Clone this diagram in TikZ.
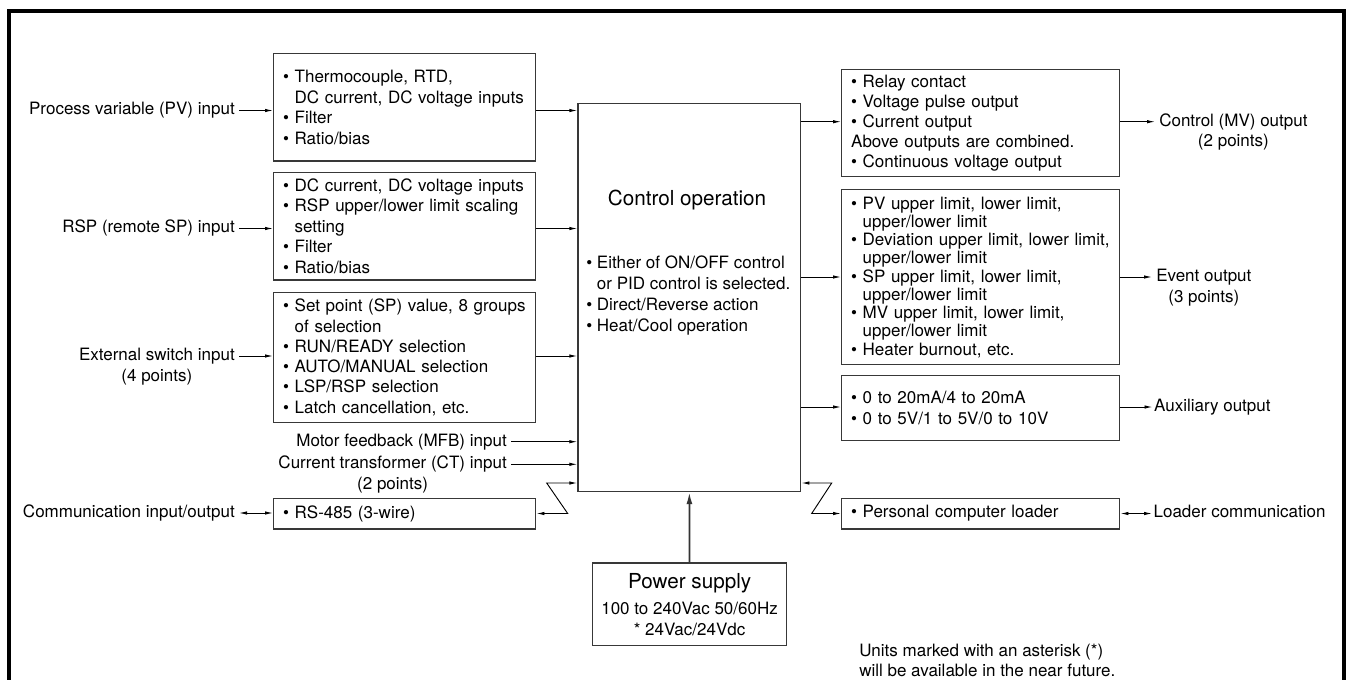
\documentclass[tikz,border=0pt]{standalone}
\usepackage{fontspec}
\setmainfont{TeX Gyre Heros}
\usetikzlibrary{arrows.meta}
\newcommand{\bul}{\textbullet\ }
\newcommand{\bulind}{\hphantom{\textbullet\ }}

\begin{document}
\begin{tikzpicture}[x=0.75pt,y=0.75pt,yscale=-1,xscale=1,
  font=\fontsize{12.75}{15.4}\selectfont,
  lbox/.style={draw=black!78,line width=1.1pt,anchor=north west,inner xsep=7pt,inner ysep=0pt,align=left,text width=182.5pt,minimum width=196.5pt},
  rbox/.style={lbox,text width=194.5pt,minimum width=208.5pt},
  lbl/.style={inner xsep=3pt,inner ysep=0pt,text height=9.2pt,text depth=2.7pt},
  arr/.style={line width=0.7pt,-{Latex[length=6pt,width=2.6pt]}},
  darr/.style={line width=0.7pt,{Latex[length=6pt,width=2.6pt]}-{Latex[length=6pt,width=2.6pt]}}]
\useasboundingbox (0,0) rectangle (1346,679);

%Frame
\draw [line width=3pt] (8.7,690) -- (8.7,11.3) -- (1344,11.3) -- (1344,690) ;

%Input boxes
\draw (273,53) node [lbox,minimum height=80.6pt] (pvbox) {\bul Thermocouple, RTD,\\\bulind DC current, DC voltage inputs\\\bul Filter\\\bul Ratio/bias};
\draw (273,171.7) node [lbox,minimum height=80.7pt] (rspbox) {\bul DC current, DC voltage inputs\\\bul RSP upper/lower limit scaling\\\bulind setting\\\bul Filter\\\bul Ratio/bias};
\draw (273,291.7) node [lbox,minimum height=97.4pt,font=\fontsize{12.75}{15.2}\selectfont] (extbox) {\bul Set point (SP) value, 8 groups\\\bulind of selection\\\bul RUN/READY selection\\\bul AUTO/MANUAL selection\\\bul LSP/RSP selection\\\bul Latch cancellation, etc.};
\draw (273,497.5) node [lbox,minimum height=22.9pt] (rsbox) {\bul RS-485 (3-wire)};

%Control box
\draw (577.3,102.7) node [draw=black!78,line width=1.1pt,anchor=north west,minimum width=167pt,minimum height=291pt,inner sep=0pt] (ctrl) {};
% Text Node
\draw (687,200) node [font=\fontsize{15.5}{18}\selectfont] (ctrltitle) {Control operation};
% Text Node
\draw (586,255.5) node [anchor=north west,inner sep=0pt,align=left,font=\fontsize{12.75}{15.75}\selectfont] (ctrltext) {\bul Either of ON/OFF control\\\bulind or PID control is selected.\\\bul Direct/Reverse action\\\bul Heat/Cool operation};

%Output boxes
\draw (841,69) node [rbox,minimum height=80.25pt,font=\fontsize{12.75}{15}\selectfont] (relaybox) {\bul Relay contact\\\bul Voltage pulse output\\\bul Current output\\Above outputs are combined.\\\bul Continuous voltage output};
\draw (841,189) node [rbox,minimum height=131.25pt,font=\fontsize{12.75}{13.7}\selectfont] (eventbox) {\bul PV upper limit, lower limit,\\\bulind upper/lower limit\\\bul Deviation upper limit, lower limit,\\\bulind upper/lower limit\\\bul SP upper limit, lower limit,\\\bulind upper/lower limit\\\bul MV upper limit, lower limit,\\\bulind upper/lower limit\\\bul Heater burnout, etc.};
\draw (841,375) node [rbox,minimum height=48.75pt,font=\fontsize{12.75}{15.75}\selectfont] (auxbox) {\bul 0 to 20mA/4 to 20mA\\\bul 0 to 5V/1 to 5V/0 to 10V};
\draw (841,497.5) node [rbox,minimum height=22.9pt] (pcbox) {\bul Personal computer loader};

%Power supply
\draw (591.7,562.3) node [draw=black!78,line width=1.1pt,anchor=north west,minimum width=145.7pt,minimum height=62pt,inner sep=0pt,align=center,font=\fontsize{12.75}{15.75}\selectfont] (powbox) {{\fontsize{15.5}{18}\selectfont Power supply}\\[3.5pt]100 to 240Vac 50/60Hz\\{*} 24Vac/24Vdc};

% Text Node
\draw (239,110.5) node [lbl,anchor=east] (pvin) {Process variable (PV) input};
% Text Node
\draw (239,228.5) node [lbl,anchor=east] (rspin) {RSP (remote SP) input};
% Text Node
\draw (239,356) node [lbl,anchor=east] (extin) {External switch input};
\draw (extin.center) ++(0,20.7) node [lbl] (extpts) {(4 points)};
% Text Node
\draw (511,441.7) node [lbl,anchor=east] (mfbin) {Motor feedback (MFB) input};
% Text Node
\draw (511,464.3) node [lbl,anchor=east] (ctin) {Current transformer (CT) input};
\draw (ctin.center) ++(0,20.7) node [lbl] (ctpts) {(2 points)};
% Text Node
\draw (239,513) node [lbl,anchor=east] (comm) {Communication input/output};
% Text Node
\draw (1155,121.7) node [lbl,anchor=west] (mvout) {Control (MV) output};
\draw (mvout.center) ++(0,20.7) node [lbl] (mvpts) {(2 points)};
% Text Node
\draw (1152,277) node [lbl,anchor=west] (evout) {Event output};
\draw (evout.center) ++(0,21) node [lbl] (evpts) {(3 points)};
% Text Node
\draw (1152.5,407) node [lbl,anchor=west,inner xsep=1pt] (auxout) {Auxiliary output};
% Text Node
\draw (1152,513) node [lbl,anchor=west,inner xsep=1pt] (loadcom) {Loader communication};
% Text Node
\draw (859,660) node [anchor=west,align=left,inner sep=0pt,font=\fontsize{12.75}{15}\selectfont] (note) {Units marked with an asterisk (*)\\will be available in the near future.};

%Inputs
\draw [arr] (pvin.east) -- (pvin.east -| pvbox.west) ;
\draw [arr] (pvbox.east |- pvin.east) -- (pvin.east -| ctrl.west) ;
\draw [arr] (rspin.east) -- (rspin.east -| rspbox.west) ;
\draw [arr] (rspbox.east |- rspin.east) -- (rspin.east -| ctrl.west) ;
\draw [arr] (extin.east) -- (extin.east -| extbox.west) ;
\draw [arr] (extbox.east |- extin.east) -- (extin.east -| ctrl.west) ;
\draw [arr] (mfbin.east) -- (mfbin.east -| ctrl.west) ;
\draw [arr] (ctin.east) -- (ctin.east -| ctrl.west) ;
\draw [darr] (comm.east) -- (comm.east -| rsbox.west) ;

%Zigzag links
\coordinate (zla) at (567.7,513) ;
\coordinate (zlb) at (546.7,483) ;
\draw [darr] (rsbox.east) -- (rsbox.east -| zla) -- (zlb) -- (zlb -| ctrl.west) ;
\coordinate (zra) at (831.7,483) ;
\coordinate (zrb) at (811.7,513) ;
\draw [darr] (zra -| ctrl.east) -- (zra) -- (pcbox.west -| zrb) -- (pcbox.west) ;

%Outputs
\draw [arr] (ctrl.east |- mvout.west) -- (relaybox.west |- mvout.west) ;
\draw [arr] (relaybox.east |- mvout.west) -- (mvout.west) ;
\draw [arr] (ctrl.east |- evout.west) -- (eventbox.west |- evout.west) ;
\draw [arr] (eventbox.east |- evout.west) -- (evout.west) ;
\draw [arr] (ctrl.east |- auxout.west) -- (auxbox.west |- auxout.west) ;
\draw [arr] (auxbox.east |- auxout.west) -- (auxout.west) ;
\draw [darr] (pcbox.east) -- (pcbox.east -| loadcom.west) ;

%Power
\draw [line width=1.3pt,draw=black!80,-{Latex[length=9pt,width=4.5pt]}] (powbox.north) -- (ctrl.south) ;

\end{tikzpicture}
\end{document}
